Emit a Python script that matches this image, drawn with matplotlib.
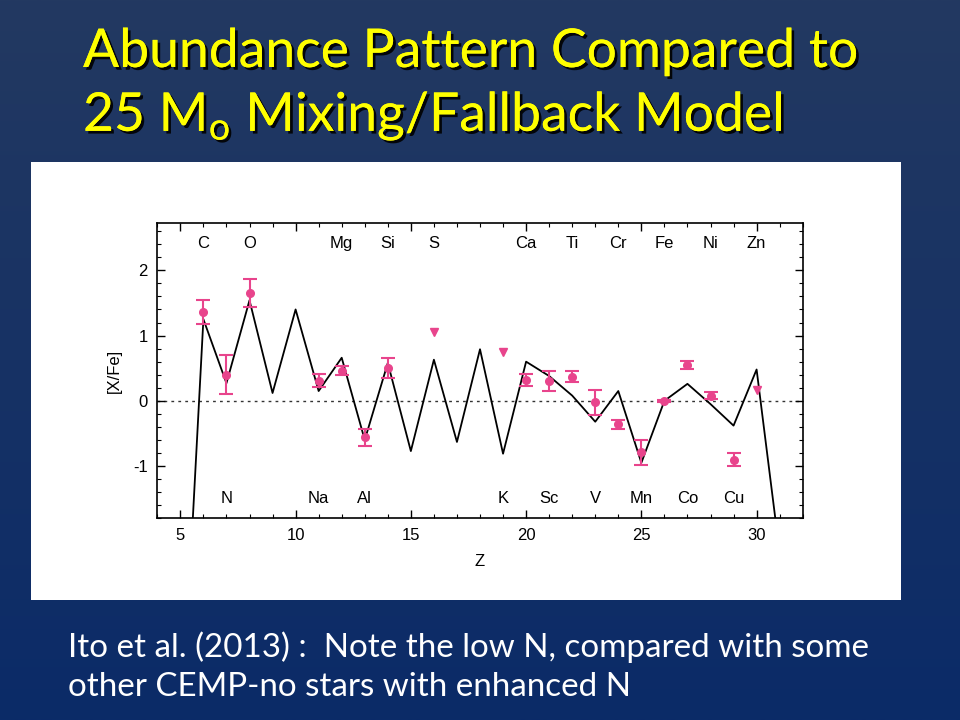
import numpy as np
import matplotlib
matplotlib.use('Agg')
import matplotlib.pyplot as plt
import matplotlib.patheffects as pe

plt.rcParams['axes.unicode_minus'] = False

# Model curve (25 Msun mixing/fallback), [X/Fe] vs Z
model_z = [5, 6, 7, 8, 9, 10, 11, 12, 13, 14, 15, 16, 17, 18, 19, 20, 21, 22, 23, 24, 25, 26, 27, 28, 29, 30, 31]
model_xfe = [-5.4, 1.25, 0.27, 1.54, 0.12, 1.40, 0.15, 0.66, -0.60, 0.58, -0.77, 0.63, -0.63, 0.79,
             -0.81, 0.60, 0.38, 0.08, -0.32, 0.15, -0.95, 0.00, 0.26, -0.05, -0.38, 0.48, -2.33]

# Measured abundances with errors
obs_z = [6, 7, 8, 11, 12, 13, 14, 20, 21, 22, 23, 24, 25, 26, 27, 28, 29]
obs_xfe = [1.36, 0.40, 1.65, 0.31, 0.46, -0.56, 0.50, 0.32, 0.30, 0.37, -0.02, -0.36, -0.79, 0.00, 0.55, 0.08, -0.90]
obs_err = [0.19, 0.30, 0.22, 0.10, 0.07, 0.13, 0.15, 0.09, 0.15, 0.08, 0.19, 0.07, 0.19, 0.02, 0.06, 0.05, 0.10]

# Upper limits
lim_z = [16, 19, 30]
lim_xfe = [1.06, 0.75, 0.17]

# Element labels
top_labels = ['C', 'O', 'Mg', 'Si', 'S', 'Ca', 'Ti', 'Cr', 'Fe', 'Ni', 'Zn']
top_z = [6, 8, 12, 14, 16, 20, 22, 24, 26, 28, 30]
bottom_labels = ['N', 'Na', 'Al', 'K', 'Sc', 'V', 'Mn', 'Co', 'Cu']
bottom_z = [7, 11, 13, 19, 21, 23, 25, 27, 29]

pink = '#e8448c'
slide_font = ['Lato', 'DejaVu Sans']
plot_font = ['Liberation Sans', 'DejaVu Sans']

fig = plt.figure(figsize=(9.6, 7.2), dpi=100)
renderer = fig.canvas.get_renderer()


def fit_width(txt, width_px):
    # shrink/grow a slide text so it spans the same width as on the slide
    w = txt.get_window_extent(renderer).width
    txt.set_fontsize(txt.get_fontsize() * width_px / w)


# Slide background gradient
bg = fig.add_axes([0, 0, 1, 1])
grad = np.linspace(0, 1, 256).reshape(-1, 1)
cmap = matplotlib.colors.LinearSegmentedColormap.from_list('slide', ['#233961', '#0b2b68'])
bg.imshow(grad, aspect='auto', cmap=cmap, extent=[0, 1, 0, 1], origin='upper')
bg.set_xlim(0, 1)
bg.set_ylim(0, 1)
bg.axis('off')

# White panel behind the chart
panel = fig.add_axes([31 / 960, 1 - 600 / 720, 870 / 960, 438 / 720])
panel.set_facecolor('white')
panel.set_xticks([])
panel.set_yticks([])
for s in panel.spines.values():
    s.set_visible(False)

# Title
shadow = [pe.withSimplePatchShadow(offset=(2, -2), shadow_rgbFace='black', alpha=0.9), pe.Normal()]
t1 = fig.text(83 / 960, 1 - 67 / 720, 'Abundance Pattern Compared to', color='#ffff00',
              fontsize=40, family=slide_font, path_effects=shadow)
fit_width(t1, 775)
t2 = fig.text(83 / 960, 1 - 131 / 720, r'25 M$_\mathregular{o}$ Mixing/Fallback Model', color='#ffff00',
              fontsize=t1.get_fontsize(), family=slide_font, path_effects=shadow)

# Caption
c1 = fig.text(68 / 960, 1 - 657 / 720, 'Ito et al. (2013) :  Note the low N, compared with some',
              color='white', fontsize=20, family=slide_font)
fit_width(c1, 800)
fig.text(68 / 960, 1 - 696 / 720, 'other CEMP-no stars with enhanced N',
         color='white', fontsize=c1.get_fontsize(), family=slide_font)

# Main plot
ax = fig.add_axes([157.3 / 960, 1 - 518.3 / 720, 645.4 / 960, 295 / 720])
ax.plot(model_z, model_xfe, color='black', lw=1.3, zorder=2)
ax.axhline(0, color='#333333', lw=1, ls=(0, (2, 3)), zorder=1)
ax.errorbar(obs_z, obs_xfe, yerr=obs_err, fmt='o', color=pink, ms=5.5, capsize=5,
            elinewidth=1.5, capthick=1.5, zorder=3)
ax.plot(lim_z, lim_xfe, 'v', color=pink, ms=6, zorder=3)

for lab, z in zip(top_labels, top_z):
    ax.text(z, 2.41, lab, ha='center', va='center', fontsize=12, family=plot_font)
for lab, z in zip(bottom_labels, bottom_z):
    ax.text(z, -1.50, lab, ha='center', va='center', fontsize=12, family=plot_font)

ax.set_xlim(4, 32)
ax.set_ylim(-1.8, 2.72)
ax.set_xticks([5, 10, 15, 20, 25, 30])
ax.set_xticks(np.arange(4, 33, 1), minor=True)
ax.set_yticks([-1, 0, 1, 2])
ax.set_yticks(np.arange(-1.8, 2.8, 0.2), minor=True)
ax.tick_params(which='both', direction='in', top=True, right=True, labelsize=12)
ax.tick_params(which='major', length=6, width=1, pad=7)
ax.tick_params(which='minor', length=3, width=0.8)
for lbl in ax.get_xticklabels() + ax.get_yticklabels():
    lbl.set_family(plot_font)
for s in ax.spines.values():
    s.set_linewidth(1.2)
ax.set_xlabel('Z', fontsize=12, family=plot_font, labelpad=8)
ax.set_ylabel('[X/Fe]', fontsize=12, family=plot_font, labelpad=8)

fig.savefig('out.png', dpi=100)
